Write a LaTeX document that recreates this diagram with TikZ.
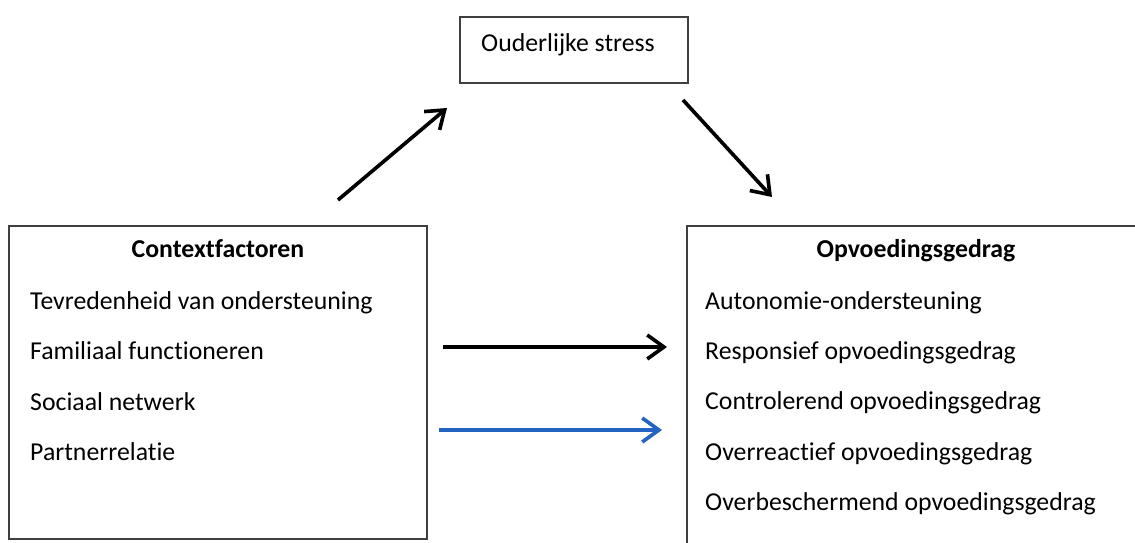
\documentclass[tikz,border=0pt]{standalone}
\usepackage{fontspec}
\setmainfont{Carlito}[Ligatures=NoCommon]
\usetikzlibrary{arrows.meta}

\definecolor{pijlblauw}{RGB}{35,100,195}

\tikzset{
    kader/.style={draw=black!75, line width=1.3pt, inner sep=0pt},
    kop/.style={anchor=base, inner sep=0pt, font=\fontsize{22}{26}\selectfont\bfseries},
    regel/.style={anchor=base west, inner sep=0pt},
    pijl/.style={line width=3.1pt, -{Straight Barb[length=0.5cm, width=0.72cm]}},
}

\begin{document}
\begin{tikzpicture}[x=0.03cm, y=-0.03cm, font=\fontsize{22}{26}\selectfont]
    \useasboundingbox (0,0) rectangle (1135,543);
    \clip (0,0) rectangle (1135,543);

    % kaders
    \node[kader, minimum width=6.84cm, minimum height=1.98cm] (stress) at (574,50) {};
    \node[kader, minimum width=12.54cm, minimum height=9.39cm] (context) at (218,382.5) {};
    \node[kader, minimum width=13.74cm, minimum height=10.32cm] (gedrag) at (916,398) {};

    % teksten
    \node[regel] (stresstekst) at (481,52) {Ouderlijke stress};

    \node[kop] (contextkop) at (218,258) {Contextfactoren};
    \foreach \tekst [count=\i] in {Tevredenheid van ondersteuning, Familiaal functioneren,
        Sociaal netwerk, Partnerrelatie}
        \node[regel] (context\i) at (30,259+50.5*\i) {\tekst};

    \node[kop] (gedragkop) at (916,258) {Opvoedingsgedrag};
    \foreach \tekst [count=\i] in {Autonomie-ondersteuning, Responsief opvoedingsgedrag,
        Controlerend opvoedingsgedrag, Overreactief opvoedingsgedrag,
        Overbeschermend opvoedingsgedrag}
        \node[regel] (gedrag\i) at (705,259+50.3*\i) {\tekst};

    % eindpunten van de pijlen
    \coordinate (naarstress-a) at (338,200);
    \coordinate (naarstress-b) at (447,108);
    \coordinate (vanstress-a) at (683,100);
    \coordinate (vanstress-b) at (772,197);
    \coordinate (direct-a) at (443,347);
    \coordinate (direct-b) at (667,347);
    \coordinate (blauw-a) at (439,430);
    \coordinate (blauw-b) at (662,430);

    % pijlen
    \draw[pijl] (naarstress-a) -- (naarstress-b);
    \draw[pijl] (vanstress-a) -- (vanstress-b);
    \draw[pijl] (direct-a) -- (direct-b);
    \draw[pijl, pijlblauw] (blauw-a) -- (blauw-b);
\end{tikzpicture}
\end{document}
